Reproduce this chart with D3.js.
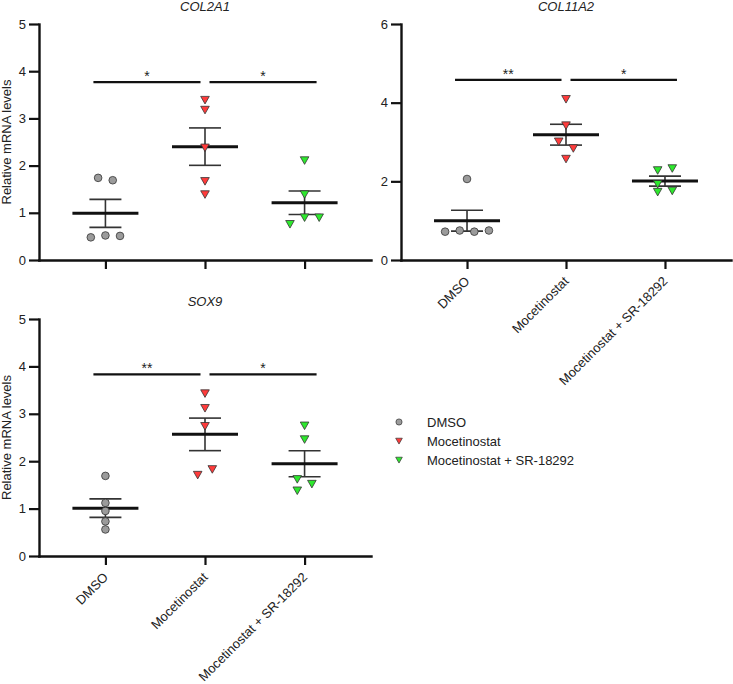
<!DOCTYPE html>
<html>
<head>
<meta charset="utf-8">
<script src="https://cdn.jsdelivr.net/npm/d3@7"></script>
<style>
body{margin:0;background:#fff;}
svg text{font-family:"Liberation Sans",Arial,sans-serif;fill:#222;}
</style>
</head>
<body>
<svg id="chart" width="733" height="684"></svg>
<script>
// groups and values (5 replicates per group)
const groups = ["DMSO", "Mocetinostat", "Mocetinostat + SR-18292"];
const groupColors = ["#9b9b9b", "#ff3b3b", "#2de82d"];
const col2a1 = [[1.74, 1.69, 0.48, 0.52, 0.51], [3.39, 3.18, 2.38, 1.67, 1.39], [2.11, 1.39, 0.76, 0.90, 0.90]];
const col11a2 = [[2.06, 0.72, 0.75, 0.72, 0.75], [4.09, 3.42, 3.01, 2.84, 2.57], [2.28, 2.33, 1.93, 1.73, 1.76]];
const sox9 = [[1.69, 1.12, 0.95, 0.73, 0.56], [3.43, 3.12, 2.74, 1.71, 1.83], [2.75, 2.46, 1.62, 1.38, 1.52]];
const ticks5 = [0, 1, 2, 3, 4, 5];
const ticks6 = [0, 2, 4, 6];
const sigCol2a1 = [{a: 0, b: 1, y: 3.77, t: "*"}, {a: 1, b: 2, y: 3.77, t: "*"}];
const sigCol11a2 = [{a: 0, b: 1, y: 4.58, t: "**"}, {a: 1, b: 2, y: 4.58, t: "*"}];
const sigSox9 = [{a: 0, b: 1, y: 3.83, t: "**"}, {a: 1, b: 2, y: 3.83, t: "*"}];

const panels = [
  {name: "COL2A1", values: col2a1, ticks: ticks5, sig: sigCol2a1, left: 39, right: 371, top: 24, bottom: 260, yLabel: true, xLabels: false},
  {name: "COL11A2", values: col11a2, ticks: ticks6, sig: sigCol11a2, left: 401, right: 731, top: 24, bottom: 260, yLabel: false, xLabels: true},
  {name: "SOX9", values: sox9, ticks: ticks5, sig: sigSox9, left: 39, right: 371, top: 319, bottom: 556, yLabel: true, xLabels: true}
];

const svg = d3.select('#chart');

const triDown = {draw(ctx, size){
  let w = Math.sqrt(size);
  ctx.moveTo(-w/2, -w*0.42);
  ctx.lineTo(w/2, -w*0.42);
  ctx.lineTo(0, w*0.46);
  ctx.closePath();
}};
function markPath(g, size){
  return d3.symbol().type(g === 0 ? d3.symbolCircle : triDown).size(size)();
}

// spread points that sit at the same height into centred rows, like the scatter in the figure
function spread(vals, y){
  let pts = vals.map((v, i) => ({v: v, i: i, py: y(v), dx: 0}));
  let rows = [], cur = null;
  pts.slice().sort((a, b) => a.v - b.v).forEach(p => {
    if(cur && cur[0].py - p.py < 7.4) cur.push(p);
    else { cur = [p]; rows.push(cur); }
  });
  rows.forEach(r => {
    r.sort((a, b) => a.i - b.i);
    r.forEach((p, k) => p.dx = (k - (r.length - 1)/2) * 14.6);
  });
  rows.filter(r => r.length === 1).forEach(r => {
    let p = r[0];
    let near = pts.some(q => q !== p && q.dx !== 0 && Math.hypot(q.dx, q.py - p.py) < 10);
    if(near) p.dx = -7.3;
  });
  return pts;
}

panels.forEach(pn => {
  let g = svg.append('g');
  let x = d3.scalePoint().domain(groups).range([pn.left, pn.right]).padding(0.667);
  let y = d3.scaleLinear().domain([0, d3.max(pn.ticks)]).range([pn.bottom, pn.top]);

  // axes
  let ya = g.append('g').attr('transform', `translate(${pn.left},0)`)
    .call(d3.axisLeft(y).tickValues(pn.ticks).tickFormat(d3.format('d')).tickSize(10).tickSizeOuter(0).tickPadding(3));
  let xa = g.append('g').attr('transform', `translate(0,${pn.bottom})`)
    .call(d3.axisBottom(x).tickSize(9).tickSizeOuter(0));
  [ya, xa].forEach(a => {
    a.select('.domain').attr('stroke', '#111').attr('stroke-width', 2.4).attr('stroke-linecap', 'square');
    a.selectAll('.tick line').attr('stroke', '#111').attr('stroke-width', 2.2);
    a.selectAll('text').style('font-size', '13px').attr('fill', '#222');
  });
  if(pn.xLabels){
    xa.selectAll('.tick text')
      .attr('text-anchor', 'end').attr('dy', null).attr('y', null)
      .attr('transform', 'translate(3,22) rotate(-45)');
  } else {
    xa.selectAll('.tick text').remove();
  }

  // title
  g.append('text').attr('x', x(groups[1])).attr('y', pn.top - 13)
    .attr('text-anchor', 'middle').style('font-size', '13px').style('font-style', 'italic').text(pn.name);
  if(pn.yLabel){
    g.append('text').attr('transform', `translate(10.5,${(pn.top + pn.bottom)/2}) rotate(-90)`)
      .attr('text-anchor', 'middle').style('font-size', '13px').text('Relative mRNA levels');
  }

  // mean and SEM
  pn.values.forEach((vals, gi) => {
    let cx = x(groups[gi]);
    let m = d3.mean(vals);
    let se = d3.deviation(vals) / Math.sqrt(vals.length);
    g.append('line').attr('x1', cx).attr('x2', cx).attr('y1', y(m + se)).attr('y2', y(m - se))
      .attr('stroke', '#333').attr('stroke-width', 1.6);
    [m + se, m - se].forEach(v => {
      g.append('line').attr('x1', cx - 16).attr('x2', cx + 16).attr('y1', y(v)).attr('y2', y(v))
        .attr('stroke', '#333').attr('stroke-width', 1.6);
    });
    g.append('line').attr('x1', cx - 33).attr('x2', cx + 33).attr('y1', y(m)).attr('y2', y(m))
      .attr('stroke', '#111').attr('stroke-width', 3);
  });

  // points
  pn.values.forEach((vals, gi) => {
    let cx = x(groups[gi]);
    g.selectAll(null).data(spread(vals, y)).enter().append('path')
      .attr('d', markPath(gi, gi === 0 ? 46 : 74))
      .attr('transform', d => `translate(${cx + d.dx},${d.py})`)
      .attr('fill', groupColors[gi]).attr('stroke', '#333').attr('stroke-width', 0.8);
  });

  // significance bars
  pn.sig.forEach(s => {
    let x1 = s.a === 1 ? x(groups[s.a]) + 4.5 : x(groups[s.a]) - 12;
    let x2 = s.b === 1 ? x(groups[s.b]) - 4.5 : x(groups[s.b]) + 12;
    g.append('line').attr('x1', x1).attr('x2', x2).attr('y1', y(s.y)).attr('y2', y(s.y))
      .attr('stroke', '#111').attr('stroke-width', 2.2);
    g.append('text').attr('x', (x1 + x2)/2).attr('y', y(s.y) - 1)
      .attr('text-anchor', 'middle').style('font-size', '14px').text(s.t);
  });
});

// legend
let lg = svg.append('g').attr('transform', 'translate(399,422)');
groups.forEach((name, gi) => {
  let row = lg.append('g').attr('transform', `translate(0,${gi * 19})`);
  row.append('path').attr('d', markPath(gi, gi === 0 ? 30 : 44))
    .attr('fill', groupColors[gi]).attr('stroke', '#333').attr('stroke-width', 0.7);
  row.append('text').attr('x', 28).attr('y', 4.5).style('font-size', '13px').text(name);
});
</script>
</body>
</html>
